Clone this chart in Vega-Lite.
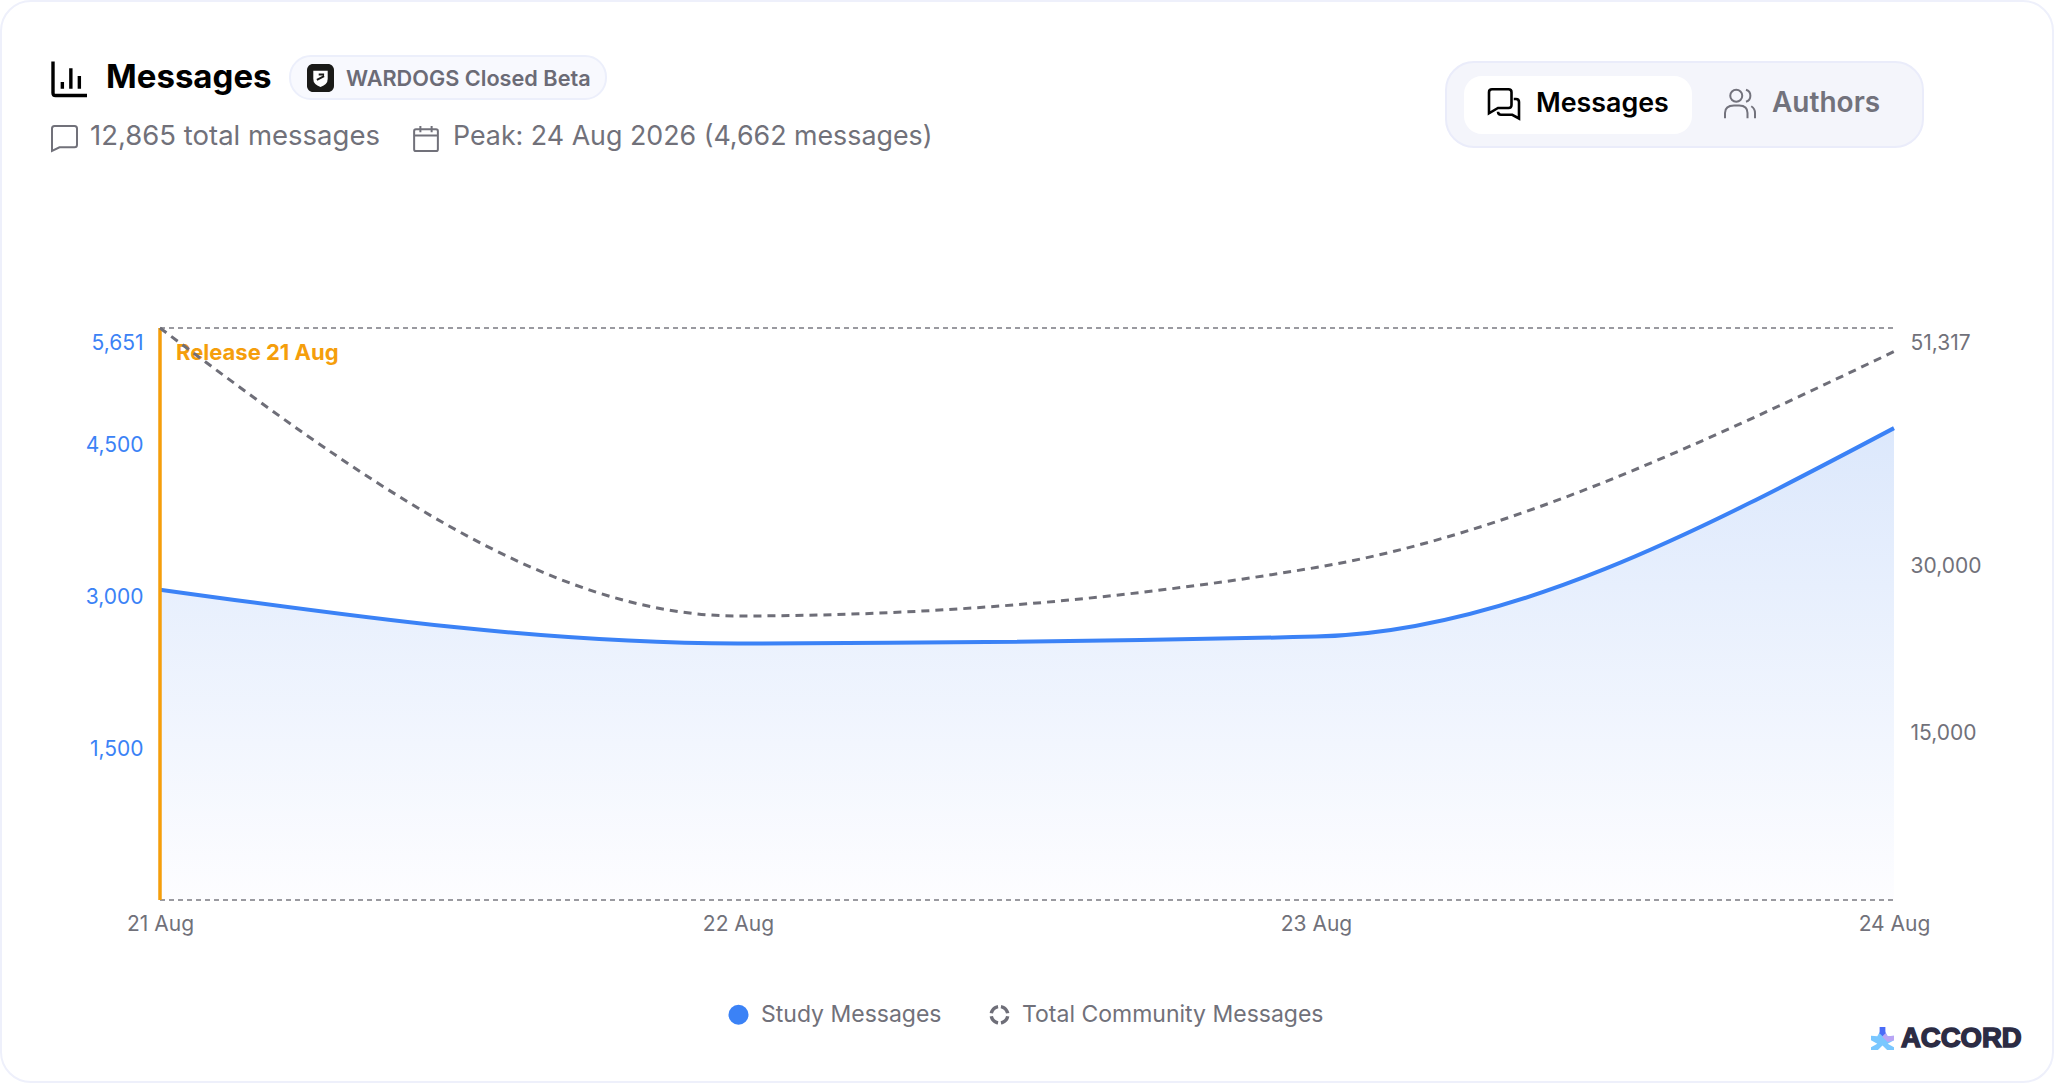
{
  "$schema": "https://vega.github.io/schema/vega-lite/v6.json",
  "width": 1734,
  "height": 572,
  "autosize": { "type": "none" },
  "padding": { "left": 160, "top": 328, "right": 160, "bottom": 183 },
  "background": "#ffffff",
  "config": {
    "font": "Inter",
    "view": { "stroke": null },
    "axis": { "grid": false, "domain": false, "ticks": false, "title": null, "labelFont": "Inter", "labelFontSize": 21 },
    "text": { "align": "left", "baseline": "middle" }
  },
  "datasets": {
    "daily": [
      { "date": "2026-08-21T00:00:00", "study": 3066, "total": 51317 },
      { "date": "2026-08-22T00:00:00", "study": 2535, "total": 25480 },
      { "date": "2026-08-23T00:00:00", "study": 2602, "total": 29830 },
      { "date": "2026-08-24T00:00:00", "study": 4662, "total": 49200 }
    ],
    "bounds": [
      { "start": "2026-08-21T00:00:00", "end": "2026-08-24T00:00:00", "bound": 0 },
      { "start": "2026-08-21T00:00:00", "end": "2026-08-24T00:00:00", "bound": 5651 }
    ],
    "release": [ { "date": "2026-08-21T00:00:00", "top": 5651, "label": "Release 21 Aug" } ],
    "series": [
      { "date": "2026-08-21T00:00:00", "top": 0, "series": "Study Messages" },
      { "date": "2026-08-21T00:00:00", "top": 0, "series": "Total Community Messages" }
    ],
    "anchor": [ { "date": "2026-08-21T00:00:00", "top": 5651 } ]
  },
  "layer": [
    {
      "encoding": {
        "x": {
          "field": "date",
          "type": "temporal",
          "scale": { "domain": [ { "year": 2026, "month": 8, "date": 21 }, { "year": 2026, "month": 8, "date": 24 } ] },
          "axis": {
            "format": "%-d %b",
            "tickCount": { "interval": "day", "step": 1 },
            "labelBound": false,
            "labelFlush": false,
            "labelOverlap": false,
            "labelPadding": 13,
            "labelColor": "#71717a"
          }
        },
        "y": {
          "field": "study",
          "type": "quantitative",
          "scale": { "domain": [0, 5651] },
          "axis": {
            "values": [1500, 3000, 4500, 5651],
            "format": ",d",
            "labelColor": "#3b82f6",
            "labelPadding": 17,
            "labelOffset": { "expr": "datum.value == 5651 ? 15 : 1" }
          }
        }
      },
      "layer": [
        {
          "data": { "name": "anchor" },
          "encoding": {
            "y": { "field": "top", "type": "quantitative" }
          },
          "layer": [
            {
              "mark": { "type": "rect", "fill": null, "stroke": "#eef0fb", "strokeWidth": 2, "cornerRadius": 30, "xOffset": -159, "x2Offset": 1893, "yOffset": -327, "y2Offset": 754 },
              "encoding": { "x2": { "field": "date" }, "y2": { "field": "top" } }
            },
            {
              "mark": { "type": "rect", "fill": "#f8f9fe", "stroke": "#eceffb", "strokeWidth": 2, "cornerRadius": 21, "xOffset": 130, "x2Offset": 446, "yOffset": -272, "y2Offset": -229 },
              "encoding": { "x2": { "field": "date" }, "y2": { "field": "top" } }
            },
            {
              "mark": { "type": "rect", "fill": "#1a1a18", "cornerRadius": 6, "xOffset": 147, "x2Offset": 174, "yOffset": -264, "y2Offset": -236 },
              "encoding": { "x2": { "field": "date" }, "y2": { "field": "top" } }
            },
            {
              "mark": { "type": "rect", "fill": "#f4f5fb", "stroke": "#eaecfa", "strokeWidth": 2, "cornerRadius": 28, "xOffset": 1286, "x2Offset": 1763, "yOffset": -266, "y2Offset": -181 },
              "encoding": { "x2": { "field": "date" }, "y2": { "field": "top" } }
            },
            {
              "mark": { "type": "rect", "fill": "#ffffff", "cornerRadius": 18, "xOffset": 1304, "x2Offset": 1532, "yOffset": -252, "y2Offset": -194 },
              "encoding": { "x2": { "field": "date" }, "y2": { "field": "top" } }
            },
            { "mark": { "type": "point", "filled": false, "size": 1156, "opacity": 1, "stroke": "#000000", "strokeWidth": 3.4, "xOffset": -90, "yOffset": -249.5, "shape": "M-1 -1V.85Q-1 1 -.85 1H1M-.45 .6V.2M.05 .6V-.6M.55 .6V-.15" } },
            { "mark": { "type": "point", "filled": false, "size": 625, "opacity": 1, "stroke": "#71717a", "strokeWidth": 2, "xOffset": -95.5, "yOffset": -189.5, "shape": "M-.8 -1H.8Q1 -1 1 -.8V.5Q1 .7 .8 .7H-.4L-1 1V-.8Q-1 -1 -.8 -1Z" } },
            { "mark": { "type": "point", "filled": false, "size": 625, "opacity": 1, "stroke": "#71717a", "strokeWidth": 2, "xOffset": 266, "yOffset": -189.5, "shape": "M-.8 -.75H.8Q.95 -.75 .95 -.6V.85Q.95 1 .8 1H-.8Q-.95 1 -.95 .85V-.6Q-.95 -.75 -.8 -.75ZM-.95 -.25H.95M-.45 -1V-.5M.45 -1V-.5" } },
            { "mark": { "type": "point", "filled": false, "size": 900, "opacity": 1, "stroke": "#000000", "strokeWidth": 2.6, "xOffset": 1344, "yOffset": -224.5, "shape": "M-.8 -.95H.3Q.5 -.95 .5 -.75V.1Q.5 .3 .3 .3H-.4L-1 .65V-.75Q-1 -.95 -.8 -.95ZM.65 -.3H.8Q1 -.3 1 -.1V1L.55 .75H-.2Q-.4 .75 -.4 .55" } },
            { "mark": { "type": "point", "filled": false, "size": 900, "opacity": 1, "stroke": "#72727c", "strokeWidth": 2, "xOffset": 1580, "yOffset": -224, "shape": "M-.65 -.55A.4 .4 0 1 1 .15 -.55A.4 .4 0 1 1 -.65 -.55ZM-1 .95V.6Q-1 .1 -.4 .1H-.05Q.5 .1 .5 .6V.95M.4 -.95A.42 .42 0 0 1 .4 -.15M.75 .15Q1 .3 1 .6V.95" } },
            { "mark": { "type": "point", "filled": true, "size": 324, "opacity": 1, "fill": "#ffffff", "xOffset": 160.5, "yOffset": -250, "shape": "M-.8 -.8H.8V.1Q.8 .7 0 1Q-.8 .7 -.8 .1Z" } },
            { "mark": { "type": "point", "filled": false, "size": 324, "opacity": 1, "stroke": "#1a1a18", "strokeWidth": 2, "xOffset": 160.5, "yOffset": -250, "shape": "M-.4 .2L.4 -.2M-.2 -.4H.4" } },
            { "mark": { "type": "point", "filled": true, "size": 529, "opacity": 1, "fill": "#79c7ff", "xOffset": 1722.5, "yOffset": 710.5, "shape": "M0 -1L.45 -.2L1 -.25V.15L.45 .45L1 .75V1L.4 1L0 .6L-.4 1L-1 1V.75L-.45 .45L-1 .15V-.25L-.45 -.2Z" } },
            { "mark": { "type": "point", "filled": true, "size": 529, "opacity": 1, "fill": "#b9a5f5", "xOffset": 1722.5, "yOffset": 710.5, "shape": "M0 -1L.45 -.2L1 -.25V.15L.45 .3L0 -.1Z" } },
            { "mark": { "type": "point", "filled": true, "size": 529, "opacity": 1, "fill": "#4a6cf7", "xOffset": 1722.5, "yOffset": 710.5, "shape": "M-.25 -1H.25L.25 -.45L0 -.2L-.25 -.45Z" } },
            { "mark": { "type": "text", "text": "Messages", "font": "Inter", "fontSize": 33, "fontWeight": 700, "fill": "#000000", "xOffset": -54, "yOffset": -250 } },
            { "mark": { "type": "text", "text": "WARDOGS Closed Beta", "font": "Inter", "fontSize": 21.7, "fontWeight": 600, "fill": "#6b6b76", "xOffset": 186, "yOffset": -249 } },
            { "mark": { "type": "text", "text": "12,865 total messages", "font": "Inter", "fontSize": 27.5, "fill": "#71717a", "xOffset": -70, "yOffset": -191 } },
            { "mark": { "type": "text", "text": "Peak: 24 Aug 2026 (4,662 messages)", "font": "Inter", "fontSize": 26.8, "fill": "#71717a", "xOffset": 293, "yOffset": -191 } },
            { "mark": { "type": "text", "text": "Messages", "font": "Inter", "fontSize": 26.8, "fontWeight": 600, "fill": "#000000", "xOffset": 1376, "yOffset": -224 } },
            { "mark": { "type": "text", "text": "Authors", "font": "Inter", "fontSize": 28, "fontWeight": 600, "fill": "#72727c", "xOffset": 1612, "yOffset": -224 } },
            { "mark": { "type": "text", "text": "ACCORD", "font": "Liberation Sans", "fontSize": 27.5, "fontWeight": 700, "fill": "#2c2c44", "stroke": "#2c2c44", "strokeWidth": 1.5, "xOffset": 1741, "yOffset": 711 } }
          ]
        },
        {
          "data": { "name": "daily" },
          "mark": {
            "type": "area",
            "interpolate": "monotone",
            "color": {
              "gradient": "linear",
              "x1": 1, "y1": 1, "x2": 1, "y2": 0,
              "stops": [
                { "offset": 0, "color": "#fdfdff" },
                { "offset": 1, "color": "#dce8fc" }
              ]
            }
          },
          "encoding": {}
        },
        {
          "data": { "name": "bounds" },
          "mark": { "type": "rule", "stroke": "#9a9aa0", "strokeWidth": 1.8, "strokeDash": [5, 4] },
          "encoding": {
            "x": { "field": "start", "type": "temporal" },
            "x2": { "field": "end" },
            "y": { "field": "bound", "type": "quantitative" }
          }
        },
        {
          "data": { "name": "daily" },
          "mark": { "type": "line", "interpolate": "monotone", "stroke": "#3b82f6", "strokeWidth": 4 },
          "encoding": {}
        },
        {
          "data": { "name": "release" },
          "mark": { "type": "rule", "stroke": "#f59e0b", "strokeWidth": 3.5 },
          "encoding": {
            "y": { "field": "top", "type": "quantitative" },
            "y2": { "datum": 0 }
          }
        },
        {
          "data": { "name": "release" },
          "mark": { "type": "text", "font": "Inter", "fontSize": 22, "fontWeight": 700, "fill": "#f59e0b", "dx": 16, "dy": 25 },
          "encoding": {
            "y": { "field": "top", "type": "quantitative" },
            "text": { "field": "label", "type": "nominal" }
          }
        },
        {
          "data": { "name": "series" },
          "mark": { "type": "point", "filled": true, "opacity": 1 },
          "encoding": {
            "y": { "field": "top", "type": "quantitative" },
            "size": { "value": 0 },
            "color": {
              "field": "series",
              "type": "nominal",
              "scale": { "domain": ["Study Messages", "Total Community Messages"], "range": ["#3b82f6", "#6e6e78"] },
              "legend": {
                "title": null,
                "orient": "none",
                "legendX": 567,
                "legendY": 675,
                "direction": "horizontal",
                "symbolSize": 400,
                "labelFont": "Inter",
                "labelFontSize": 23,
                "labelColor": "#71717a",
                "labelLimit": 500,
                "labelOffset": 11,
                "columnPadding": 46
              }
            },
            "shape": {
              "field": "series",
              "type": "nominal",
              "scale": {
                "domain": ["Study Messages", "Total Community Messages"],
                "range": ["circle", "M.985 .174A1 1 0 0 1 .174 .985L.115 .65A.66 .66 0 0 0 .65 .115ZM-.174 .985A1 1 0 0 1 -.985 .174L-.65 .115A.66 .66 0 0 0 -.115 .65ZM-.985 -.174A1 1 0 0 1 -.174 -.985L-.115 -.65A.66 .66 0 0 0 -.65 -.115ZM.174 -.985A1 1 0 0 1 .985 -.174L.65 -.115A.66 .66 0 0 0 .115 -.65Z"]
              },
              "legend": {
                "title": null,
                "orient": "none",
                "legendX": 567,
                "legendY": 675,
                "direction": "horizontal",
                "symbolSize": 400,
                "labelFont": "Inter",
                "labelFontSize": 23,
                "labelColor": "#71717a",
                "labelLimit": 500,
                "labelOffset": 11,
                "columnPadding": 46
              }
            }
          }
        }
      ]
    },
    {
      "data": { "name": "daily" },
      "mark": { "type": "line", "interpolate": "monotone", "stroke": "#6e6e78", "strokeWidth": 3, "strokeDash": [8, 6] },
      "encoding": {
        "x": { "field": "date", "type": "temporal" },
        "y": {
          "field": "total",
          "type": "quantitative",
          "scale": { "domain": [0, 51317] },
          "axis": {
            "orient": "right",
            "values": [15000, 30000, 51317],
            "format": ",d",
            "labelColor": "#71717a",
            "labelPadding": 16,
            "labelOffset": { "expr": "datum.value == 51317 ? 15 : 1" }
          }
        }
      }
    }
  ],
  "resolve": { "scale": { "y": "independent" } }
}
